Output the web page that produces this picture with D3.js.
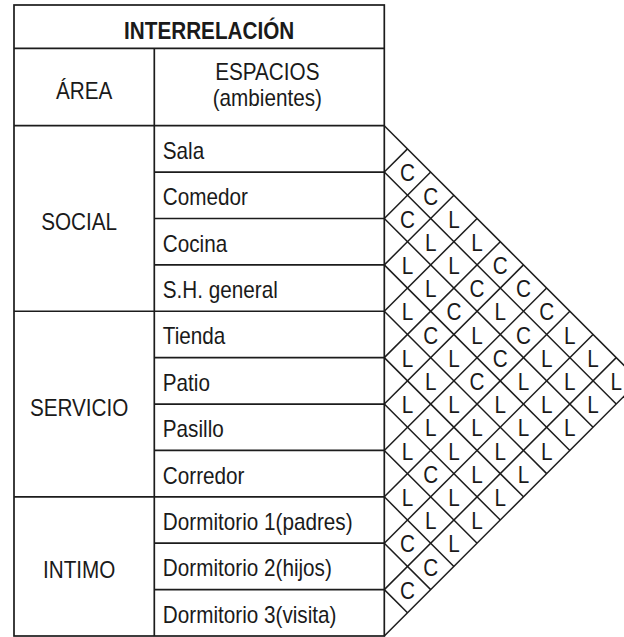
<!DOCTYPE html>
<html>
<head>
<meta charset="utf-8">
<script src="https://cdn.jsdelivr.net/npm/d3@7"></script>
<style>
  html, body { margin: 0; padding: 0; background: #fff; }
  svg { display: block; }
</style>
</head>
<body>
<script>
// ---- data ----
const titulo = "INTERRELACIÓN";
const encabezadoArea = "ÁREA";
const encabezadoEspacios = ["ESPACIOS", "(ambientes)"];
const areas = ["SOCIAL", "SERVICIO", "INTIMO"];
const areaSpan = [4, 4, 3];
const espacios = ["Sala", "Comedor", "Cocina", "S.H. general", "Tienda", "Patio",
                  "Pasillo", "Corredor", "Dormitorio 1(padres)", "Dormitorio 2(hijos)",
                  "Dormitorio 3(visita)"];
// relaciones[i][k] = relation between espacios[i] and espacios[i+1+k]
const relaciones = ["CCLLCCCLLL", "CLLCLCLLL", "LLCLCLLL", "LCLCLLL", "LLLLLL",
                    "LLLLL", "LCLL", "LLL", "CC", "C"];

// ---- layout ----
const W = 624, H = 637;
const xL = 14, xMid = 154.3, xR = 384.3;
const yTop = 5, yTitle = 48.3, yHead = 125.7, yBot = 636;
const n = espacios.length;
const stroke = "#1c1c1c";
const FS = 23, SX = 0.9;

const svg = d3.select("body").append("svg").attr("width", W).attr("height", H);

const y = d3.scaleBand().domain(d3.range(n)).range([yHead, yBot]).paddingInner(0).paddingOuter(0);
const rowH = y.bandwidth();
const yB = d3.scaleLinear().domain([0, n]).range([yHead, yBot]); // row boundaries
const xD = d3.scaleLinear().domain([0, n]).range([xR, xR + n * rowH / 2]); // diamond column offset

function label(g, txt, x, yb, anchor, weight) {
  g.append("text")
    .attr("transform", `translate(${x},${yb}) scale(${SX},1)`)
    .attr("text-anchor", anchor || "start")
    .attr("font-family", "'Liberation Sans', Arial, sans-serif")
    .attr("font-size", FS)
    .attr("font-weight", weight || "normal")
    .attr("fill", "#1a1a1a")
    .text(txt);
}

const lines = svg.append("g").attr("stroke", stroke).attr("stroke-width", 1.7).attr("fill", "none");
const texts = svg.append("g");

// ---- diamond grid ----
const dg = svg.append("g").attr("stroke", stroke).attr("stroke-width", 1.5).attr("fill", "none");
for (let k = 0; k <= n; k++) {
  const yk = yB(k);
  if (k < n) { // down-right to bottom boundary
    const off = (yB(n) - yk) / 2;
    dg.append("line").attr("x1", xR).attr("y1", yk).attr("x2", xR + off).attr("y2", yk + off);
  }
  if (k > 0) { // up-right to top boundary
    const off = (yk - yB(0)) / 2;
    dg.append("line").attr("x1", xR).attr("y1", yk).attr("x2", xR + off).attr("y2", yk - off);
  }
}

// cells
const cells = [];
relaciones.forEach((row, i) => {
  row.split("").forEach((v, k) => {
    const j = i + 1 + k;
    cells.push({ i, j, v });
  });
});
svg.append("g").selectAll("text").data(cells).join("text")
  .attr("transform", d => {
    const cx = xD(d.j - d.i);
    const cy = (y(d.i) + y(d.j) + rowH) / 2;
    return `translate(${cx},${cy + 0.716 * FS / 2 + 1}) scale(${SX},1)`;
  })
  .attr("text-anchor", "middle")
  .attr("font-family", "'Liberation Sans', Arial, sans-serif")
  .attr("font-size", FS)
  .attr("fill", "#1a1a1a")
  .text(d => d.v);

// ---- table ----
lines.append("rect").attr("x", xL).attr("y", yTop).attr("width", xR - xL).attr("height", yBot - yTop);
lines.append("line").attr("x1", xL).attr("x2", xR).attr("y1", yTitle).attr("y2", yTitle);
lines.append("line").attr("x1", xL).attr("x2", xR).attr("y1", yHead).attr("y2", yHead);
lines.append("line").attr("x1", xMid).attr("x2", xMid).attr("y1", yTitle).attr("y2", yBot);
for (let k = 1; k < n; k++) {
  lines.append("line").attr("x1", xMid).attr("x2", xR).attr("y1", yB(k)).attr("y2", yB(k));
}
let acc = 0;
areas.forEach((a, idx) => {
  const s = acc, e = acc + areaSpan[idx];
  if (e < n) lines.append("line").attr("x1", xL).attr("x2", xMid).attr("y1", yB(e)).attr("y2", yB(e));
  const cy = (yB(s) + yB(e)) / 2;
  label(texts, a, (xL + xMid) / 2 - 5, cy + 12, "middle");
  acc = e;
});

// title and headers
label(texts, titulo, (xL + xR) / 2 + 10, (yTop + yTitle) / 2 + 12, "middle", "bold");
label(texts, encabezadoArea, (xL + xMid) / 2, (yTitle + yHead) / 2 + 12, "middle");
label(texts, encabezadoEspacios[0], (xMid + xR) / 2 - 2, 80, "middle");
label(texts, encabezadoEspacios[1], (xMid + xR) / 2 - 2, 106, "middle");

// space labels
espacios.forEach((s, i) => {
  label(texts, s, xMid + 8.5, y(i) + rowH / 2 + 10, "start");
});
</script>
</body>
</html>
